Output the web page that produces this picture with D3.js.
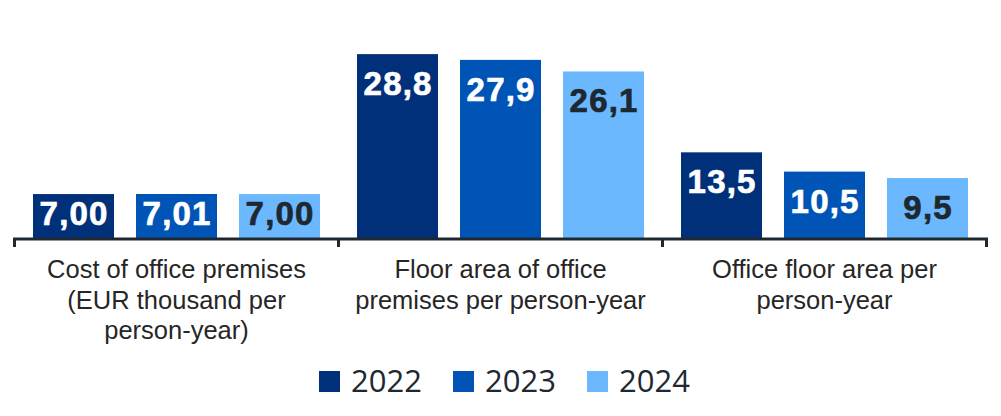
<!DOCTYPE html>
<html>
<head>
<meta charset="utf-8">
<script src="https://cdn.jsdelivr.net/npm/d3@7"></script>
<style>
  body { margin: 0; background: #fff; }
  svg { display: block; }
</style>
</head>
<body>
<div id="chart"></div>
<script>
// chart data
var categories = [
    ["Cost of office premises", "(EUR thousand per", "person-year)"],
    ["Floor area of office", "premises per person-year"],
    ["Office floor area per", "person-year"]
];
var years = ["2022", "2023", "2024"];
var values2022 = [7.00, 28.8, 13.5];
var values2023 = [7.01, 27.9, 10.5];
var values2024 = [7.00, 26.1, 9.5];
var valueLabels2022 = ["7,00", "28,8", "13,5"];
var valueLabels2023 = ["7,01", "27,9", "10,5"];
var valueLabels2024 = ["7,00", "26,1", "9,5"];

var colors = ["#00307a", "#0054b6", "#6cb8ff"];
var labelColors = ["#ffffff", "#ffffff", "#1e2830"];

var width = 1001;
var height = 416;
var baseY = 239;

var series = [values2022, values2023, values2024];
var seriesLabels = [valueLabels2022, valueLabels2023, valueLabels2024];

var svg = d3.select("#chart")
    .append("svg")
    .attr("width", width)
    .attr("height", height);

var x0 = d3.scaleBand()
    .domain(d3.range(categories.length))
    .range([14.5, 986.5]);

var x1 = d3.scaleBand()
    .domain(d3.range(years.length))
    .range([0, x0.bandwidth()])
    .paddingInner(22 / 103)
    .paddingOuter(0.1796);

var y = d3.scaleLinear()
    .domain([0, 35])
    .range([baseY, baseY - 35 * 6.42]);

// bars
var groups = svg.selectAll(".group")
    .data(categories)
    .enter().append("g")
    .attr("class", "group")
    .attr("transform", function(d, i) { return "translate(" + x0(i) + ",0)"; });

groups.each(function(c, ci) {
    var g = d3.select(this);
    var cells = years.map(function(yr, si) {
        return { s: si, v: series[si][ci], label: seriesLabels[si][ci] };
    });

    g.selectAll("rect")
        .data(cells)
        .enter().append("rect")
        .attr("x", function(d) { return x1(d.s); })
        .attr("y", function(d) { return y(d.v); })
        .attr("width", x1.bandwidth())
        .attr("height", function(d) { return y(0) - y(d.v); })
        .style("fill", function(d) { return colors[d.s]; });

    // labels sit inside the top of the bar, short bars get them lower
    g.selectAll(".val")
        .data(cells)
        .enter().append("text")
        .attr("class", "val")
        .attr("x", function(d) { return x1(d.s) + x1.bandwidth() / 2 + 0.6; })
        .attr("y", function(d) {
            var h = y(0) - y(d.v);
            return y(d.v) + Math.min(41, h - 14.5);
        })
        .attr("text-anchor", "middle")
        .style("font-family", "'Liberation Sans', Arial, sans-serif")
        .style("font-weight", "bold")
        .style("font-size", "33px")
        .style("letter-spacing", "1.2px")
        .style("fill", function(d) { return labelColors[d.s]; })
        .style("stroke", function(d) { return labelColors[d.s]; })
        .style("stroke-width", 0.7)
        .text(function(d) { return d.label; });
});

// x axis
var axisG = svg.append("g")
    .attr("transform", "translate(0," + baseY + ")");

axisG.append("line")
    .attr("x1", x0.range()[0] - 1.5)
    .attr("x2", x0.range()[1] + 1.5)
    .attr("y1", 0).attr("y2", 0)
    .style("stroke", "#1e2830")
    .style("stroke-width", 3);

var tickPos = d3.range(categories.length + 1).map(function(i) {
    return i < categories.length ? x0(i) : x0.range()[1];
});

axisG.selectAll(".tick-line")
    .data(tickPos)
    .enter().append("line")
    .attr("class", "tick-line")
    .attr("x1", function(d) { return d; })
    .attr("x2", function(d) { return d; })
    .attr("y1", 0).attr("y2", 8)
    .style("stroke", "#1e2830")
    .style("stroke-width", 3);

// category labels
svg.selectAll(".cat")
    .data(categories)
    .enter().append("text")
    .attr("class", "cat")
    .attr("text-anchor", "middle")
    .attr("x", function(d, i) { return x0(i) + x0.bandwidth() / 2; })
    .attr("y", 278)
    .style("font-family", "'Liberation Sans', Arial, sans-serif")
    .style("font-size", "25.5px")
    .style("fill", "#262626")
    .each(function(d, i) {
        var t = d3.select(this);
        d.forEach(function(line, li) {
            t.append("tspan")
                .attr("x", x0(i) + x0.bandwidth() / 2)
                .attr("dy", li === 0 ? 0 : 30.5)
                .text(line);
        });
    });

// legend
var legend = svg.append("g")
    .attr("transform", "translate(319,371)");

var items = legend.selectAll(".item")
    .data(years)
    .enter().append("g")
    .attr("class", "item")
    .attr("transform", function(d, i) { return "translate(" + (i * 134) + ",0)"; });

items.append("rect")
    .attr("width", 21)
    .attr("height", 21)
    .style("fill", function(d, i) { return colors[i]; });

items.append("text")
    .attr("x", 32)
    .attr("y", 21)
    .style("font-family", "'Open Sans', 'Noto Sans', sans-serif")
    .style("font-size", "31px")
    .style("fill", "#1e2830")
    .text(function(d) { return d; });
</script>
</body>
</html>
